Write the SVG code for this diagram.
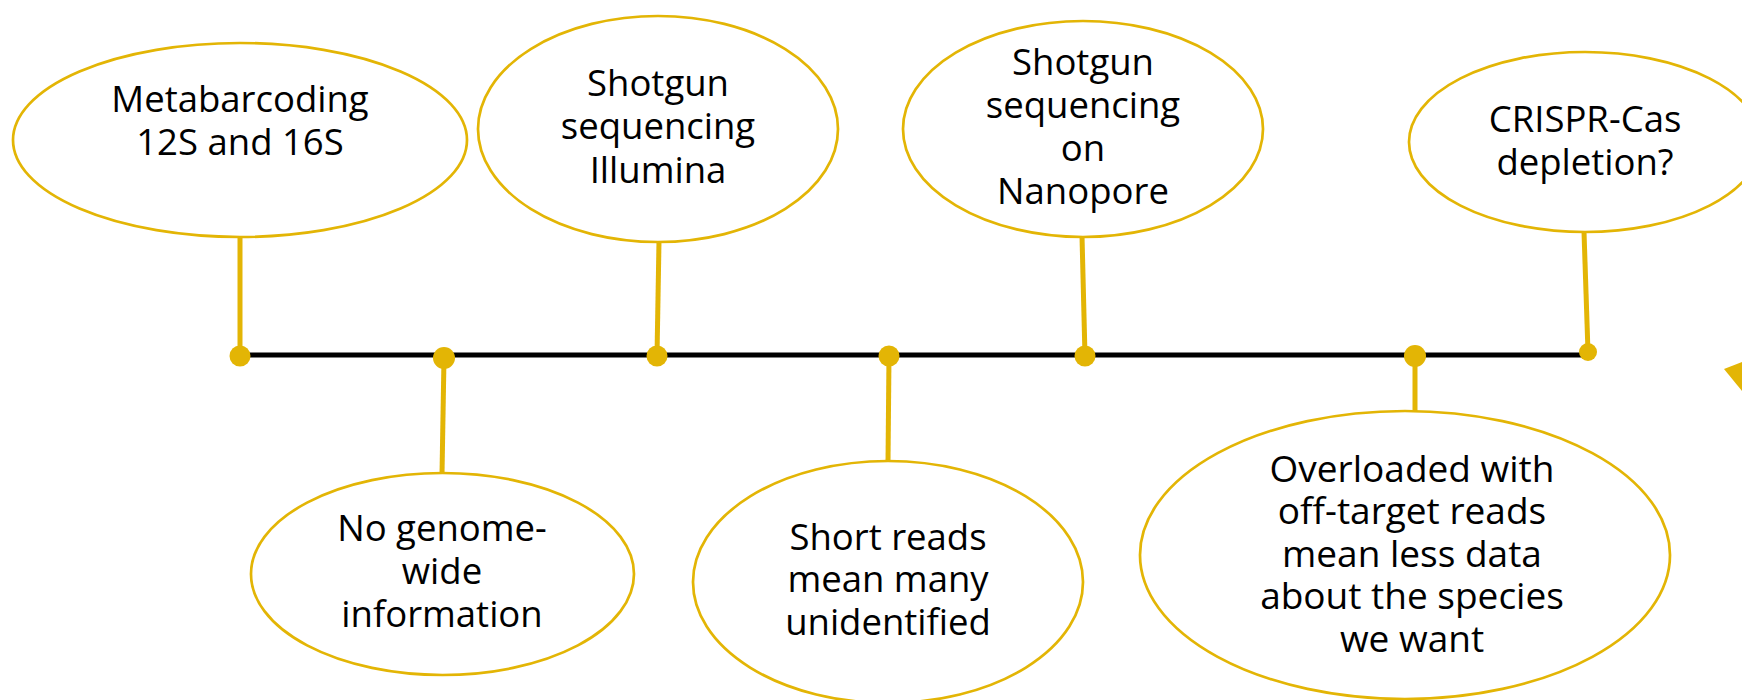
<svg xmlns="http://www.w3.org/2000/svg" width="1742" height="700" viewBox="0 0 1742 700">
<style>
.n ellipse{fill:#fff;stroke:#E3B505;stroke-width:2.7}
.t{font-family:"Open Sans","Liberation Sans",sans-serif;font-size:36.5px;fill:#000;text-anchor:middle}
.c line{stroke:#E3B505;stroke-width:5}
.d{fill:#E3B505}
</style>
<rect width="1742" height="700" fill="#fff"/>
<g id="connectors" class="c">
<line x1="240" y1="237" x2="240" y2="355"/>
<line x1="444" y1="358" x2="442" y2="474"/>
<line x1="659" y1="241" x2="657" y2="356"/>
<line x1="889" y1="356" x2="888" y2="462"/>
<line x1="1082" y1="236" x2="1085" y2="356"/>
<line x1="1415" y1="355" x2="1415" y2="412"/>
<line x1="1584" y1="232" x2="1588" y2="352"/>
<line x1="240" y1="355" x2="1588" y2="355" style="stroke:#000;stroke-width:5"/>
<circle class="d" cx="240" cy="356" r="10.5"/>
<circle class="d" cx="444" cy="358" r="11"/>
<circle class="d" cx="657" cy="356" r="10.5"/>
<circle class="d" cx="889" cy="356" r="10.5"/>
<circle class="d" cx="1085" cy="356" r="10.5"/>
<circle class="d" cx="1415" cy="356" r="11"/>
<circle class="d" cx="1588" cy="352" r="9"/>
</g>
<g id="n1" class="n"><ellipse cx="240" cy="140" rx="227" ry="97"/>
<text class="t" x="240" y="112">Metabarcoding</text><text class="t" x="240" y="155">12S and 16S</text></g>
<g id="n2" class="n"><ellipse cx="658" cy="129" rx="180" ry="113"/>
<text class="t" x="658" y="96">Shotgun</text><text class="t" x="658" y="139">sequencing</text><text class="t" x="658" y="183">Illumina</text></g>
<g id="n3" class="n"><ellipse cx="1083" cy="129" rx="180" ry="108"/>
<text class="t" x="1083" y="75">Shotgun</text><text class="t" x="1083" y="118">sequencing</text><text class="t" x="1083" y="161">on</text><text class="t" x="1083" y="204">Nanopore</text></g>
<g id="n4" class="n"><ellipse cx="1585" cy="142" rx="176" ry="90"/>
<text class="t" x="1585" y="132">CRISPR-Cas</text><text class="t" x="1585" y="175">depletion?</text></g>
<g id="n5" class="n"><ellipse cx="442.5" cy="574" rx="191.5" ry="101"/>
<text class="t" x="442" y="541">No genome-</text><text class="t" x="442" y="584">wide</text><text class="t" x="442" y="627">information</text></g>
<g id="n6" class="n"><ellipse cx="888" cy="582" rx="195" ry="121"/>
<text class="t" x="888" y="550">Short reads</text><text class="t" x="888" y="592">mean many</text><text class="t" x="888" y="635">unidentified</text></g>
<g id="n7" class="n"><ellipse cx="1405" cy="555" rx="265" ry="144"/>
<text class="t" x="1412" y="482" style="font-size:37px">Overloaded with</text><text class="t" x="1412" y="524" style="font-size:37px">off-target reads</text><text class="t" x="1412" y="567" style="font-size:37px">mean less data</text><text class="t" x="1412" y="609" style="font-size:37px">about the species</text><text class="t" x="1412" y="652" style="font-size:37px">we want</text></g>
<polygon points="1724,369 1742,362 1742,391" fill="#E3B505"/>
</svg>
